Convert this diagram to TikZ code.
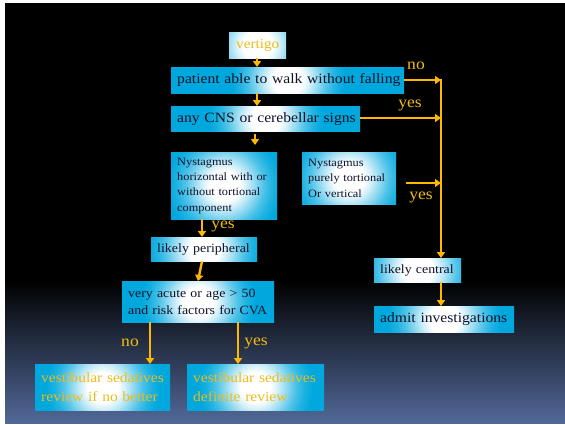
\documentclass[tikz,border=0pt]{standalone}
\usepackage{fontspec}
\setmainfont{Liberation Serif}[FakeStretch=1.1]
\usetikzlibrary{arrows.meta}

\definecolor{boxcyan}{RGB}{0,168,222}
\colorlet{glowa}{boxcyan!20!white}
\colorlet{glowb}{boxcyan!45!white}
\colorlet{glowc}{boxcyan!70!white}
\colorlet{glowd}{boxcyan!88!white}
\definecolor{arrowyel}{RGB}{255,184,0}
\definecolor{labyel}{RGB}{240,188,20}
\definecolor{boxtext}{RGB}{16,18,40}
\definecolor{bgblue}{RGB}{82,104,152}
\pgfdeclareradialshading{glow}{\pgfpoint{0bp}{0bp}}{color(0bp)=(white); color(2.5bp)=(white); color(3.8bp)=(glowa); color(5.2bp)=(glowb); color(6.6bp)=(glowc); color(8bp)=(glowd); color(9.5bp)=(boxcyan); color(50bp)=(boxcyan)}

\tikzset{
  fbox/.style={rectangle, fill=boxcyan, anchor=north west, inner xsep=6pt, inner ysep=0pt,
    align=left, text=boxtext,
    path picture={\shade[shading=glow] (path picture bounding box.center) circle (150pt);}},
  flow/.style={draw=arrowyel, line width=2.4pt, -{Triangle[width=8pt,length=6pt]}},
  lab/.style={text=labyel, font=\fontsize{16}{16}\selectfont},
}

\begin{document}
\begin{tikzpicture}[x=1pt,y=-1pt]
\useasboundingbox (0,0) rectangle (565,424);
\fill[white] (0,0) rectangle (565,424);
\fill[black] (5,3) rectangle (565,281); % background
\shade[top color=black, bottom color=bgblue] (5,280) rectangle (565,423);

% boxes
\node[fbox, text width=45pt, minimum height=26pt, align=center, text=labyel, font=\fontsize{13.8}{16}\selectfont] (vertigo) at (229,32) {vertigo};
\node[fbox, text width=221pt, minimum height=26pt, font=\fontsize{14.2}{17}\selectfont] (walk) at (171,67) {\mbox{patient able to walk without falling}};
\node[fbox, text width=177pt, minimum height=25pt, font=\fontsize{14.2}{17}\selectfont] (cns) at (171,106) {\mbox{any CNS or cerebellar signs}};
\node[fbox, text width=94pt, minimum height=67pt, font=\fontsize{11.2}{15.3}\selectfont] (nysh) at (171,152) {Nystagmus\\horizontal with or\\without tortional\\component};
\node[fbox, text width=82pt, minimum height=52pt, font=\fontsize{11.2}{15.3}\selectfont] (nysp) at (302,152) {Nystagmus\\purely tortional\\Or vertical};
\node[fbox, text width=94pt, minimum height=24pt, font=\fontsize{12.7}{15}\selectfont] (periph) at (151,237) {\mbox{likely peripheral}};
\node[fbox, text width=140pt, minimum height=41pt, font=\fontsize{12.6}{16.7}\selectfont] (acute) at (122,281) {very acute or age > 50\\and risk factors for CVA};
\node[fbox, text width=75pt, minimum height=24pt, font=\fontsize{12.6}{15}\selectfont] (central) at (374,258) {\mbox{likely central}};
\node[fbox, text width=128pt, minimum height=26pt, font=\fontsize{14.2}{17}\selectfont] (admit) at (374,306) {\mbox{admit investigations}};
\node[fbox, text width=123pt, minimum height=46pt, text=labyel, font=\fontsize{14.1}{19}\selectfont] (sedno) at (35,364) {vestibular sedatives\\review if no better};
\node[fbox, text width=125pt, minimum height=46pt, text=labyel, font=\fontsize{14.1}{19}\selectfont] (seddef) at (187,364) {vestibular sedatives\\definite review};

% free ends
\coordinate (rnoend) at (441,80);
\coordinate (ryesend) at (441,118);
\coordinate (cnsa) at (255,134);
\coordinate (cnsb) at (255,145);
\coordinate (nypa) at (406,183);
\coordinate (nypb) at (441,183);
\coordinate (rtop) at (441,79);

% connectors
\draw[flow] (vertigo.south -| 257,0) -- (walk.north -| 257,0);
\draw[flow] (walk.south -| 257,0) -- (cns.north -| 257,0);
\draw[flow] (cnsa) -- (cnsb);
\draw[flow] (walk.east |- rnoend) -- (rnoend);
\draw[flow] (cns.east |- ryesend) -- (ryesend);
\draw[flow] (nypa) -- (nypb);
\draw[flow] (rtop) -- (central.north -| rtop);
\draw[flow] (central.south -| rtop) -- (admit.north -| rtop);
\draw[flow] (nysh.south -| 202,0) -- (periph.north -| 202,0);
\draw[flow] (periph.south -| 202,0) -- (acute.north -| 198,0);
\draw[flow] (acute.south -| 150,0) -- (sedno.north -| 150,0);
\draw[flow] (acute.south -| 238,0) -- (seddef.north -| 238,0);

% labels
\node[lab] (lno1) at (416,66) {no};
\node[lab] (lyes1) at (410,105) {yes};
\node[lab] (lyes2) at (421,197) {yes};
\node[lab] (lyes3) at (223,226) {yes};
\node[lab] (lno2) at (130,343) {no};
\node[lab] (lyes4) at (256,343) {yes};

\end{tikzpicture}
\end{document}
